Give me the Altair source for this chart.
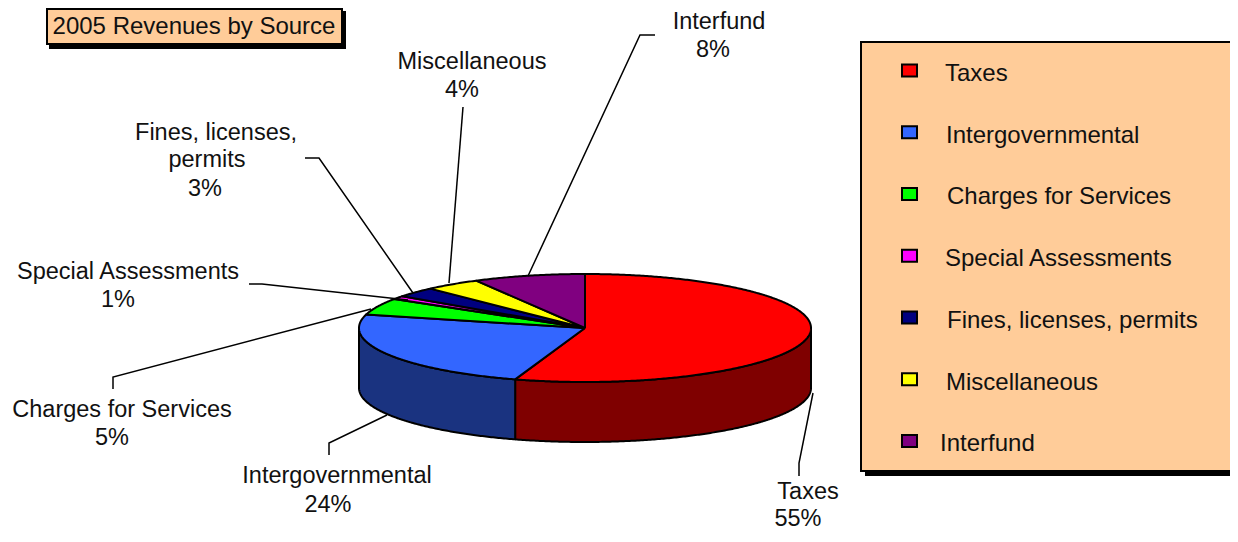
import altair as alt
import numpy as np
import pandas as pd

# ---------------- data ----------------
categories = ["Taxes", "Intergovernmental", "Charges for Services", "Special Assessments",
              "Fines, licenses, permits", "Miscellaneous", "Interfund"]
shares = [55, 24, 5, 1, 3, 4, 8]
top_colors = ["#FF0000", "#3366FF", "#00FF00", "#FF00FF", "#000080", "#FFFF00", "#800080"]
side_colors = ["#7F0000", "#1A3380", "#008000", "#800080", "#000040", "#808000", "#400040"]
title_text = "2005 Revenues by Source"

# data-label lines (text) with their placement
label_text = ["Interfund", "8%", "Miscellaneous", "4%", "Fines, licenses,", "permits", "3%",
              "Special Assessments", "1%", "Charges for Services", "5%",
              "Intergovernmental", "24%", "Taxes", "55%"]
label_x = [719, 713, 472, 462, 216, 207, 205, 128, 118, 122, 112, 337, 328, 808, 798]
label_y = [29, 57, 69, 97, 140, 167, 196, 279, 307, 417, 445, 483, 512, 499, 526]

# leader lines (polyline per label)
leader_id = ["Interfund"] * 3 + ["Miscellaneous"] * 2 + ["Fines"] * 3 + ["Special"] * 3 + \
            ["Charges"] * 3 + ["Intergovernmental"] * 3 + ["Taxes"] * 3
leader_x = [655, 640, 528, 463, 449, 305, 319, 413, 249, 262, 408, 113, 113, 371, 329, 329, 387, 799, 799, 813]
leader_y = [35, 35, 276, 107, 283, 158, 158, 293, 284, 284, 300, 389, 377, 309, 455, 443, 415, 476, 463, 393]

# ---------------- layout ----------------
CX, CY, RX, RY, DEPTH = 585, 328, 226, 54, 60
XS = alt.Scale(domain=[8, 1230], nice=False, zero=False)
YS = alt.Scale(domain=[8, 534], nice=False, zero=False, reverse=True)
FONT = "Liberation Sans"


def ell(a_deg, dy=0.0):
    a = np.radians(a_deg)
    return CX + RX * np.sin(a), CY - RY * np.cos(a) + dy


cum = np.concatenate([[0], np.cumsum(shares)]) / sum(shares) * 360.0
side_rows, top_rows = [], []
for i, cat in enumerate(categories):
    a0, a1 = cum[i], cum[i + 1]
    s0, s1 = max(a0, 90.0), min(a1, 270.0)
    if s1 > s0:
        angs = np.linspace(s0, s1, int((s1 - s0) * 2) + 2)
        pts = [ell(a) for a in angs] + [ell(a, DEPTH) for a in angs[::-1]]
        pts.append(pts[0])
        for k, (x, y) in enumerate(pts):
            side_rows.append(dict(poly=f"s{i}", key=cat + " side", order=k, x=x, y=y))
    angs = np.linspace(a0, a1, int((a1 - a0) * 2) + 2)
    pts = [(CX, CY)] + [ell(a) for a in angs] + [(CX, CY)]
    for k, (x, y) in enumerate(pts):
        top_rows.append(dict(poly=f"t{i}", key=cat, order=k, x=x, y=y))

color_scale = alt.Scale(domain=categories + [c + " side" for c in categories],
                        range=top_colors + side_colors)

sides = alt.Chart(pd.DataFrame(side_rows)).mark_line(
    filled=True, stroke="black", strokeWidth=2, strokeJoin="round").encode(
    x=alt.X("x:Q", scale=XS, axis=None),
    y=alt.Y("y:Q", scale=YS, axis=None),
    color=alt.Color("key:N", scale=color_scale, legend=None),
    detail="poly:N",
    order="order:Q",
)
tops = alt.Chart(pd.DataFrame(top_rows)).mark_line(
    filled=True, stroke="black", strokeWidth=2, strokeJoin="round").encode(
    x=alt.X("x:Q", scale=XS, axis=None),
    y=alt.Y("y:Q", scale=YS, axis=None),
    color=alt.Color("key:N", scale=color_scale, legend=None),
    detail="poly:N",
    order="order:Q",
)

# leader lines
lead_df = pd.DataFrame(dict(id=leader_id, x=leader_x, y=leader_y))
lead_df["order"] = lead_df.groupby("id").cumcount()
leaders = alt.Chart(lead_df).mark_line(color="black", strokeWidth=1.5).encode(
    x=alt.X("x:Q", scale=XS, axis=None),
    y=alt.Y("y:Q", scale=YS, axis=None),
    detail="id:N",
    order="order:Q",
)

labels = alt.Chart(pd.DataFrame(dict(t=label_text, x=label_x, y=label_y))).mark_text(
    font=FONT, fontSize=23.5, color="#111111", align="center", baseline="alphabetic").encode(
    x=alt.X("x:Q", scale=XS, axis=None),
    y=alt.Y("y:Q", scale=YS, axis=None),
    text="t:N",
)

# boxes: title box and legend panel (with drop shadows)
box_df = pd.DataFrame(dict(
    name=["title_shadow", "title", "legend_shadow", "legend"],
    x=[50, 47, 866, 861], x2=[345, 342, 1300, 1300],
    y=[12, 9, 47, 42], y2=[48, 44, 475, 471],
    fill=["#000000", "#FFCC99", "#000000", "#FFCC99"],
))
boxes = alt.Chart(box_df).mark_rect(stroke="black", strokeWidth=2).encode(
    x=alt.X("x:Q", scale=XS, axis=None), x2="x2:Q",
    y=alt.Y("y:Q", scale=YS, axis=None), y2="y2:Q",
    fill=alt.Fill("fill:N", scale=None),
)
title = alt.Chart(pd.DataFrame(dict(t=[title_text], x=[194], y=[34]))).mark_text(
    font=FONT, fontSize=24, color="#111111", align="center", baseline="alphabetic").encode(
    x=alt.X("x:Q", scale=XS, axis=None),
    y=alt.Y("y:Q", scale=YS, axis=None),
    text="t:N",
)

# legend entries
idx = np.arange(len(categories))
leg_df = pd.DataFrame(dict(
    cat=categories,
    sx=902, sx2=917,
    sy=70.5 + idx * 61.75 - 6, sy2=70.5 + idx * 61.75 + 6,
    tx=[945, 946, 947, 945, 947, 946, 940],
    ty=81 + idx * 61.7,
))
leg_sym = alt.Chart(leg_df).mark_rect(stroke="black", strokeWidth=2).encode(
    x=alt.X("sx:Q", scale=XS, axis=None), x2="sx2:Q",
    y=alt.Y("sy:Q", scale=YS, axis=None), y2="sy2:Q",
    fill=alt.Color("cat:N", scale=alt.Scale(domain=categories, range=top_colors), legend=None),
)
leg_txt = alt.Chart(leg_df).mark_text(
    font=FONT, fontSize=24, color="#111111", align="left", baseline="alphabetic").encode(
    x=alt.X("tx:Q", scale=XS, axis=None),
    y=alt.Y("ty:Q", scale=YS, axis=None),
    text="cat:N",
)

chart = alt.layer(boxes, title, sides, tops, leaders, labels, leg_sym, leg_txt).resolve_scale(
    color="independent", fill="independent"
).properties(
    width=1222, height=526, padding=0, autosize="none", background="white"
).configure_view(strokeWidth=0)

chart.save("out.html", embed_options={"renderer": "svg", "actions": False})
